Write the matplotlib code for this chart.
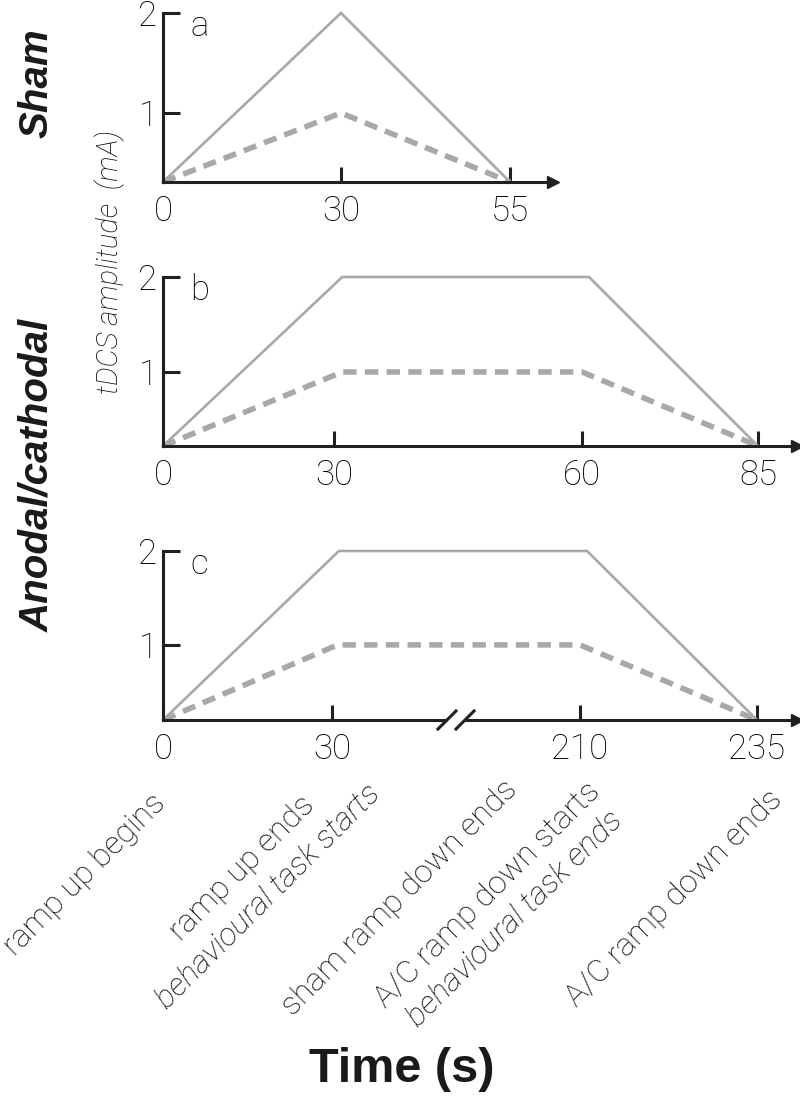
import matplotlib
matplotlib.use("Agg")
import matplotlib.pyplot as plt
import numpy as np

# data (time in s, amplitude in mA; ramps start/end on the drawn baseline)
sham_t = [0, 30, 55]
sham_solid = [0.31, 2, 0.31]
sham_dash = [0.31, 1, 0.31]

short_t_solid = [0, 31, 61, 85]
short_solid = [0.22, 2, 2, 0.22]
short_t_dash = [0, 31, 60, 85]
short_dash = [0.22, 1, 1, 0.22]

long_t_solid = [0, 35, 211, 235]
long_solid = [0.20, 2, 2, 0.20]
long_t_dash = [0, 34, 210, 235]
long_dash = [0.20, 1, 1, 0.20]

ticks_a = [0, 30, 55]
ticks_b = [0, 30, 60, 85]
ticks_c = [0, 30, 210, 235]

events = ["ramp up begins", "ramp up ends", "behavioural task starts",
          "sham ramp down ends", "A/C ramp down starts",
          "behavioural task ends", "A/C ramp down ends"]

# layout (pixels on an 800x1105 canvas)
W, H = 800, 1105
FONT = "Roboto"
AX_COL = "#231f20"
LINE_COL = "#a8a8a8"
TXT = "#000000"

plt.rcParams["font.family"] = FONT
plt.rcParams["font.weight"] = "light"

fig = plt.figure(figsize=(8, 11.05), dpi=100)


def warp(kt, kp):
    kt = np.asarray(kt, float)
    kp = np.asarray(kp, float)

    def f(v, xs, ys):
        v = np.asarray(v, float)
        out = np.interp(v, xs, ys)
        lo = ys[0] + (v - xs[0]) * (ys[1] - ys[0]) / (xs[1] - xs[0])
        hi = ys[-1] + (v - xs[-1]) * (ys[-1] - ys[-2]) / (xs[-1] - xs[-2])
        out = np.where(v < xs[0], lo, out)
        return np.where(v > xs[-1], hi, out)

    return (lambda v: f(v, kt, kp)), (lambda p: f(p, kp, kt))


def panel(top, axis_y, right, ticks, tick_px, base, letter):
    ax = fig.add_axes([163 / W, 1 - axis_y / H, (right - 163) / W, (axis_y - top) / H])
    fwd, inv = warp(ticks, tick_px)
    ax.set_xscale("function", functions=(fwd, inv))
    ax.set_xlim(0, float(inv(right)))
    ax.set_ylim(base, 2)
    for s in ["top", "right"]:
        ax.spines[s].set_visible(False)
    for s in ["left", "bottom"]:
        ax.spines[s].set_linewidth(2.2)
        ax.spines[s].set_color(AX_COL)
    ax.set_xticks(ticks)
    ax.set_xticklabels([str(t) for t in ticks])
    ax.set_yticks([1, 2])
    ax.set_yticklabels(["1", "2"])
    ax.xaxis.set_minor_locator(matplotlib.ticker.NullLocator())
    ax.tick_params(axis="x", direction="in", length=11, width=2.2, color=AX_COL,
                   labelsize=25, pad=9, labelcolor=TXT)
    ax.tick_params(axis="y", direction="in", length=12, width=2.2, color=AX_COL,
                   labelsize=25, pad=4, labelcolor=TXT)
    ax.plot(1, 0, ">", color=AX_COL, markersize=9, transform=ax.transAxes, clip_on=False)
    fig.text(190 / W, 1 - (top - 4) / H, letter, fontsize=25, va="top", ha="left", color=TXT)
    ax.patch.set_visible(False)
    return ax


def draw(ax, ts, ys, tdash, ydash):
    ax.plot(ts, ys, color=LINE_COL, lw=1.9, solid_joinstyle="miter", clip_on=False)
    ax.plot(tdash, ydash, color=LINE_COL, lw=4, dashes=(2.4, 1.5),
            dash_capstyle="butt", clip_on=False)


ax_a = panel(13, 182, 553, ticks_a, [163, 341, 510], 0.31, "a")
draw(ax_a, sham_t, sham_solid, sham_t, sham_dash)

ax_b = panel(277, 446, 797, ticks_b, [163, 334, 582, 758], 0.22, "b")
draw(ax_b, short_t_solid, short_solid, short_t_dash, short_dash)

ax_c = panel(551, 720, 797, ticks_c, [163, 332, 580, 757], 0.20, "c")
draw(ax_c, long_t_solid, long_solid, long_t_dash, long_dash)

# broken time axis on panel c
ax_c.spines["bottom"].set_visible(False)
g0, g1 = (447 - 163) / 634, (465 - 163) / 634
ax_c.plot([0, g0], [0, 0], color=AX_COL, lw=2.2, transform=ax_c.transAxes,
          clip_on=False, solid_capstyle="butt")
ax_c.plot([g1, 1], [0, 0], color=AX_COL, lw=2.2, transform=ax_c.transAxes,
          clip_on=False, solid_capstyle="butt")
for gx in (g0, g1):
    dx, dy = 9 / 634, 9 / 169
    ax_c.plot([gx - dx, gx + dx], [-dy, dy], color=AX_COL, lw=2.2,
              transform=ax_c.transAxes, clip_on=False)

# group labels and y label
fig.text(36 / W, 1 - 83 / H, "Sham", rotation=90, fontsize=29, fontweight="bold",
         style="italic", family="Liberation Sans", ha="center", va="center", color="#1a1a1a")
fig.text(37 / W, 1 - 475 / H, "Anodal/cathodal", rotation=90, fontsize=29,
         fontweight="bold", style="italic", family="Liberation Sans",
         ha="center", va="center", color="#1a1a1a")
fig.text(110 / W, 1 - 262 / H, "tDCS amplitude  (mA)", rotation=90, fontsize=21,
         style="italic", ha="center", va="center", color=TXT)

# event labels under the time axis
centres = [(85, 875), (242, 868), (268, 897), (400, 898), (488, 895), (515, 919), (674, 898)]
italic = [False, False, True, False, False, True, False]
for lab, (cx, cy), it in zip(events, centres, italic):
    fig.text(cx / W, 1 - cy / H, lab, rotation=45, rotation_mode="anchor",
             ha="center", va="center", fontsize=23,
             style="italic" if it else "normal", color=TXT)

fig.text(402 / W, 1 - 1070 / H, "Time (s)", fontsize=35, fontweight="bold",
         family="Liberation Sans", ha="center", va="center", color="#1a1a1a")

fig.savefig("out.png", dpi=100, facecolor="white")
